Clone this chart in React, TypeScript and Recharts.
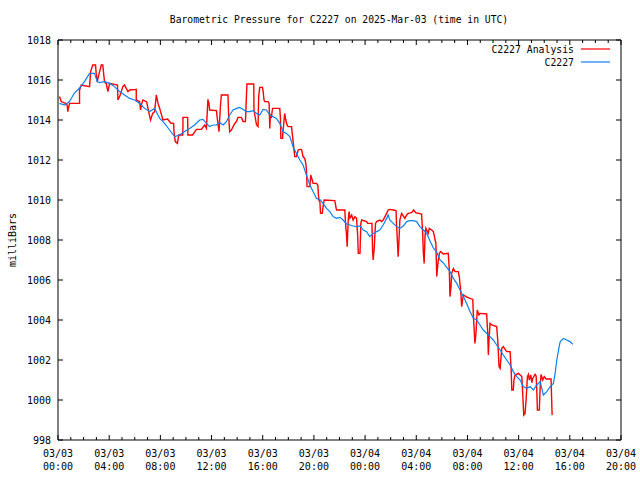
import React from "react";
import { LineChart, Line, XAxis, YAxis } from "recharts";

// minutes since 2025-03-03 00:00 UTC, pressure in mb
const analysisPoints: [number, number][] = [
  [7, 1015.17], [15, 1014.92], [35, 1014.83], [43, 1014.75], [46, 1014.42], [54, 1014.83],
  [101, 1014.83], [101, 1015.5], [109, 1015.75], [148, 1015.67], [153, 1016.42], [163, 1016.75],
  [176, 1016.75], [179, 1016.33], [184, 1015.92], [195, 1016.42], [203, 1016.75], [210, 1016.75],
  [214, 1016.33], [218, 1015.92], [226, 1015.83], [231, 1015.58], [234, 1015.42], [242, 1015.83],
  [279, 1015.75], [281, 1015.0], [289, 1015.17], [304, 1015.67], [312, 1015.75], [320, 1015.58],
  [328, 1015.42], [336, 1015.5], [367, 1015.53], [367, 1015.0], [383, 1014.92], [387, 1014.5],
  [393, 1014.83], [398, 1015.0], [416, 1014.9], [425, 1014.42], [434, 1014.0], [444, 1014.33],
  [453, 1014.42], [461, 1015.25], [469, 1014.83], [477, 1014.58], [481, 1014.42], [492, 1014.0],
  [514, 1014.05], [528, 1013.85], [542, 1013.83], [544, 1013.42], [550, 1012.92], [560, 1012.83],
  [566, 1013.25], [585, 1013.25], [586, 1013.75], [586, 1014.13], [608, 1014.13], [609, 1013.25],
  [631, 1013.25], [649, 1013.53], [672, 1013.53], [688, 1013.75], [696, 1013.58], [703, 1015.03],
  [708, 1014.83], [711, 1014.5], [743, 1014.47], [746, 1014.17], [755, 1013.42], [762, 1014.75],
  [766, 1015.25], [797, 1015.25], [800, 1014.25], [805, 1013.42], [813, 1013.5], [821, 1013.67],
  [829, 1013.83], [837, 1013.92], [844, 1014.13], [860, 1014.13], [868, 1013.92], [879, 1013.92],
  [884, 1015.33], [886, 1015.8], [918, 1015.8], [919, 1014.5], [931, 1013.75], [938, 1013.67],
  [941, 1015.17], [946, 1015.63], [959, 1015.63], [962, 1015.42], [966, 1015.0], [970, 1014.92],
  [985, 1014.92], [990, 1014.83], [993, 1013.58], [996, 1014.25], [1001, 1014.17], [1006, 1014.58],
  [1040, 1014.58], [1043, 1014.08], [1045, 1013.08], [1053, 1013.08], [1055, 1013.42], [1063, 1014.33],
  [1068, 1014.0], [1074, 1013.75], [1079, 1013.67], [1095, 1013.67], [1100, 1013.17], [1106, 1012.58],
  [1110, 1012.17], [1118, 1012.17], [1126, 1012.5], [1134, 1012.53], [1142, 1012.53], [1149, 1012.17],
  [1157, 1012.08], [1162, 1011.83], [1165, 1011.5], [1168, 1010.67], [1181, 1010.67], [1185, 1011.25],
  [1192, 1011.0], [1196, 1010.83], [1212, 1010.83], [1218, 1010.75], [1223, 1010.0], [1228, 1009.92],
  [1231, 1009.33], [1239, 1009.33], [1243, 1009.67], [1248, 1010.0], [1298, 1009.97], [1306, 1009.5],
  [1345, 1009.5], [1348, 1008.87], [1353, 1008.25], [1356, 1007.67], [1361, 1009.0], [1365, 1009.42],
  [1369, 1009.1], [1377, 1009.25], [1384, 1009.0], [1392, 1009.17], [1400, 1009.08], [1405, 1008.25],
  [1408, 1007.33], [1416, 1007.33], [1420, 1008.83], [1424, 1009.0], [1447, 1008.92], [1452, 1008.83],
  [1472, 1008.83], [1475, 1007.5], [1478, 1007.0], [1483, 1007.6], [1486, 1008.25], [1489, 1008.83],
  [1494, 1008.92], [1509, 1009.0], [1517, 1008.92], [1525, 1009.0], [1533, 1009.17], [1541, 1009.33],
  [1548, 1009.5], [1556, 1009.53], [1572, 1009.5], [1585, 1009.47], [1588, 1008.67], [1595, 1007.17],
  [1599, 1008.0], [1603, 1009.0], [1611, 1009.33], [1619, 1009.2], [1627, 1009.08], [1635, 1009.25],
  [1642, 1009.33], [1658, 1009.37], [1668, 1009.5], [1677, 1009.37], [1705, 1009.3], [1710, 1008.33],
  [1713, 1007.42], [1717, 1006.83], [1721, 1008.17], [1725, 1008.58], [1736, 1008.33], [1741, 1008.58],
  [1752, 1008.5], [1760, 1008.42], [1772, 1007.83], [1776, 1006.17], [1780, 1006.67], [1788, 1007.33],
  [1794, 1007.42], [1807, 1007.3], [1830, 1007.33], [1835, 1006.5], [1838, 1005.17], [1843, 1005.67],
  [1846, 1006.33], [1854, 1006.58], [1862, 1006.42], [1877, 1006.42], [1882, 1006.15], [1888, 1005.5],
  [1893, 1004.67], [1897, 1005.0], [1901, 1005.25], [1913, 1005.17], [1932, 1005.08], [1945, 1005.03],
  [1948, 1004.17], [1955, 1002.83], [1960, 1003.33], [1966, 1004.5], [1974, 1004.25], [1979, 1004.33],
  [2010, 1004.3], [2015, 1003.33], [2018, 1002.25], [2021, 1003.0], [2026, 1003.83], [2034, 1003.75],
  [2057, 1003.67], [2062, 1003.0], [2068, 1001.67], [2073, 1001.58], [2081, 1002.58], [2088, 1002.67],
  [2104, 1002.42], [2120, 1002.42], [2125, 1001.5], [2128, 1000.5], [2135, 1000.5], [2138, 1001.0],
  [2143, 1001.25], [2159, 1001.33], [2175, 1001.17], [2179, 1000.33], [2184, 999.25], [2190, 999.33],
  [2195, 1000.0], [2201, 1001.17], [2206, 1001.28], [2210, 1001.0], [2217, 1001.25], [2222, 1000.87],
  [2226, 1001.08], [2237, 1001.28], [2242, 1001.2], [2245, 1000.5], [2248, 999.5], [2257, 999.5],
  [2261, 1000.67], [2265, 1001.28], [2273, 1001.0], [2280, 1001.17], [2289, 1001.05], [2312, 1001.05],
  [2317, 999.25],
];

const stationPoints: [number, number][] = [
  [7, 1014.83], [31, 1014.75], [54, 1014.92], [77, 1015.35], [101, 1015.6], [124, 1015.92],
  [148, 1016.33], [171, 1016.33], [184, 1015.92], [195, 1015.87], [218, 1015.92], [242, 1015.83],
  [265, 1015.67], [289, 1015.42], [312, 1015.25], [336, 1015.08], [359, 1015.0], [383, 1014.83],
  [406, 1014.58], [430, 1014.42], [453, 1014.58], [477, 1014.08], [500, 1013.83], [523, 1013.5],
  [547, 1013.17], [570, 1013.25], [594, 1013.42], [617, 1013.58], [641, 1013.75], [664, 1014.0],
  [680, 1014.03], [696, 1013.83], [711, 1013.67], [727, 1013.75], [743, 1013.75], [758, 1013.87],
  [774, 1013.75], [790, 1013.92], [805, 1014.25], [821, 1014.5], [837, 1014.58], [852, 1014.63],
  [868, 1014.53], [884, 1014.42], [899, 1014.42], [915, 1014.47], [931, 1014.33], [946, 1014.25],
  [962, 1014.53], [977, 1014.5], [993, 1014.25], [1008, 1014.17], [1024, 1014.08], [1040, 1013.83],
  [1055, 1013.42], [1071, 1013.33], [1087, 1013.17], [1102, 1012.67], [1118, 1012.33], [1134, 1012.0],
  [1149, 1011.75], [1165, 1011.25], [1181, 1010.75], [1196, 1010.42], [1212, 1010.08], [1228, 1010.03],
  [1243, 1009.83], [1259, 1009.58], [1275, 1009.42], [1290, 1009.17], [1306, 1009.08], [1322, 1009.13],
  [1337, 1009.0], [1353, 1008.8], [1369, 1008.75], [1384, 1008.7], [1400, 1008.67], [1416, 1008.7],
  [1431, 1008.5], [1447, 1008.42], [1462, 1008.17], [1478, 1008.33], [1494, 1008.42], [1509, 1008.5],
  [1525, 1008.75], [1541, 1009.08], [1548, 1009.25], [1556, 1009.0], [1572, 1008.83], [1588, 1008.67],
  [1603, 1008.58], [1619, 1008.7], [1635, 1008.92], [1650, 1008.97], [1666, 1008.97], [1682, 1008.92],
  [1697, 1008.67], [1713, 1008.5], [1729, 1008.33], [1744, 1007.96], [1760, 1007.6], [1776, 1007.4],
  [1791, 1007.0], [1807, 1006.85], [1823, 1006.63], [1838, 1006.42], [1854, 1006.08], [1870, 1005.83],
  [1885, 1005.5], [1901, 1005.17], [1916, 1004.83], [1932, 1004.42], [1948, 1004.08], [1963, 1004.0],
  [1979, 1003.75], [1994, 1003.5], [2010, 1003.33], [2026, 1003.17], [2041, 1003.0], [2057, 1002.75],
  [2073, 1002.5], [2088, 1002.25], [2104, 1002.0], [2120, 1001.75], [2135, 1001.42], [2151, 1001.17],
  [2167, 1001.0], [2182, 1000.67], [2198, 1000.58], [2214, 1000.67], [2229, 1000.5], [2245, 1000.75],
  [2261, 1000.92], [2276, 1000.25], [2292, 1000.42], [2308, 1000.67], [2323, 1000.83], [2331, 1001.33],
  [2339, 1002.0], [2350, 1002.67], [2355, 1002.92], [2370, 1003.08], [2386, 1003.0], [2401, 1002.92],
  [2414, 1002.78],
];

const pressureTicks = [998, 1000, 1002, 1004, 1006, 1008, 1010, 1012, 1014, 1016, 1018];
const hourTicks = Array.from({ length: 45 }, (_, i) => i * 60);
const dateLabels = ["03/03", "03/03", "03/03", "03/03", "03/03", "03/03", "03/04", "03/04", "03/04", "03/04", "03/04", "03/04"];
const timeLabels = ["00:00", "04:00", "08:00", "12:00", "16:00", "20:00", "00:00", "04:00", "08:00", "12:00", "16:00", "20:00"];

const analysisData = analysisPoints.map(([t, p]) => ({ t, p }));
const stationData = stationPoints.map(([t, p]) => ({ t, p }));

const FONT = "'DejaVu Sans Mono', monospace";
const RED = "#ff0000";
const BLUE = "#0a80f5";

function BottomTick({ x, y, payload }: any) {
  const major = payload.value % 240 === 0;
  const i = payload.value / 240;
  return (
    <g>
      <line x1={x} x2={x} y1={y} y2={y - (major ? 5 : 3)} stroke="#000" />
      {major && (
        <text x={x} y={y + 17} textAnchor="middle" fontFamily={FONT} fontSize={10} fill="#000">
          {dateLabels[i]}
        </text>
      )}
      {major && (
        <text x={x} y={y + 30} textAnchor="middle" fontFamily={FONT} fontSize={10} fill="#000">
          {timeLabels[i]}
        </text>
      )}
    </g>
  );
}

function TopTick({ x, y, payload }: any) {
  const major = payload.value % 240 === 0;
  return <line x1={x} x2={x} y1={y} y2={y + (major ? 5 : 3)} stroke="#000" />;
}

function LeftTick({ x, y, payload }: any) {
  return (
    <g>
      <line x1={x} x2={x + 5} y1={y} y2={y} stroke="#000" />
      <text x={x - 7} y={y + 3.5} textAnchor="end" fontFamily={FONT} fontSize={10} fill="#000">
        {payload.value}
      </text>
    </g>
  );
}

function RightTick({ x, y }: any) {
  return <line x1={x} x2={x - 5} y1={y} y2={y} stroke="#000" />;
}

export default function App() {
  return (
    <div style={{ position: "absolute", left: 0, top: 0, width: 640, height: 480, background: "#fff" }}>
      <LineChart width={640} height={480} margin={{ top: 39, right: 18, bottom: 0, left: 0 }}>
        <XAxis
          xAxisId="b"
          type="number"
          dataKey="t"
          domain={[0, 2640]}
          ticks={hourTicks}
          interval={0}
          allowDataOverflow
          height={40}
          tickSize={0}
          tickMargin={0}
          tickLine={false}
          axisLine={{ stroke: "#000" }}
          tick={BottomTick}
        />
        <XAxis
          xAxisId="top"
          orientation="top"
          type="number"
          dataKey="t"
          domain={[0, 2640]}
          ticks={hourTicks}
          interval={0}
          allowDataOverflow
          height={1}
          tickSize={0}
          tickMargin={0}
          tickLine={false}
          axisLine={{ stroke: "#000" }}
          tick={TopTick}
        />
        <YAxis
          yAxisId="l"
          type="number"
          domain={[998, 1018]}
          ticks={pressureTicks}
          interval={0}
          allowDataOverflow
          width={58}
          tickSize={0}
          tickMargin={0}
          tickLine={false}
          axisLine={{ stroke: "#000" }}
          tick={LeftTick}
        />
        <YAxis
          yAxisId="r"
          orientation="right"
          type="number"
          domain={[998, 1018]}
          ticks={pressureTicks}
          interval={0}
          allowDataOverflow
          width={1}
          tickSize={0}
          tickMargin={0}
          tickLine={false}
          axisLine={{ stroke: "#000" }}
          tick={RightTick}
        />
        <Line
          xAxisId="b"
          yAxisId="l"
          data={analysisData}
          dataKey="p"
          type="linear"
          stroke={RED}
          strokeWidth={1.4}
          dot={false}
          isAnimationActive={false}
        />
        <Line
          xAxisId="b"
          yAxisId="l"
          data={stationData}
          dataKey="p"
          type="linear"
          stroke={BLUE}
          strokeWidth={1.2}
          dot={false}
          isAnimationActive={false}
        />
      </LineChart>
      <svg width={640} height={480} style={{ position: "absolute", left: 0, top: 0, pointerEvents: "none" }}>
        <text x={339} y={23} textAnchor="middle" fontFamily={FONT} fontSize={9.7} fill="#000">
          Barometric Pressure for C2227 on 2025-Mar-03 (time in UTC)
        </text>
        <text
          x={16}
          y={240}
          textAnchor="middle"
          transform="rotate(-90 16 240)"
          fontFamily={FONT}
          fontSize={10}
          fill="#000"
        >
          milliBars
        </text>
        <text x={574} y={53} textAnchor="end" fontFamily={FONT} fontSize={9.8} fill="#000">
          C2227 Analysis
        </text>
        <line x1={581} x2={610} y1={49} y2={49} stroke={RED} strokeWidth={1.2} />
        <text x={574} y={66} textAnchor="end" fontFamily={FONT} fontSize={9.8} fill="#000">
          C2227
        </text>
        <line x1={581} x2={610} y1={62} y2={62} stroke={BLUE} strokeWidth={1.2} />
      </svg>
    </div>
  );
}
